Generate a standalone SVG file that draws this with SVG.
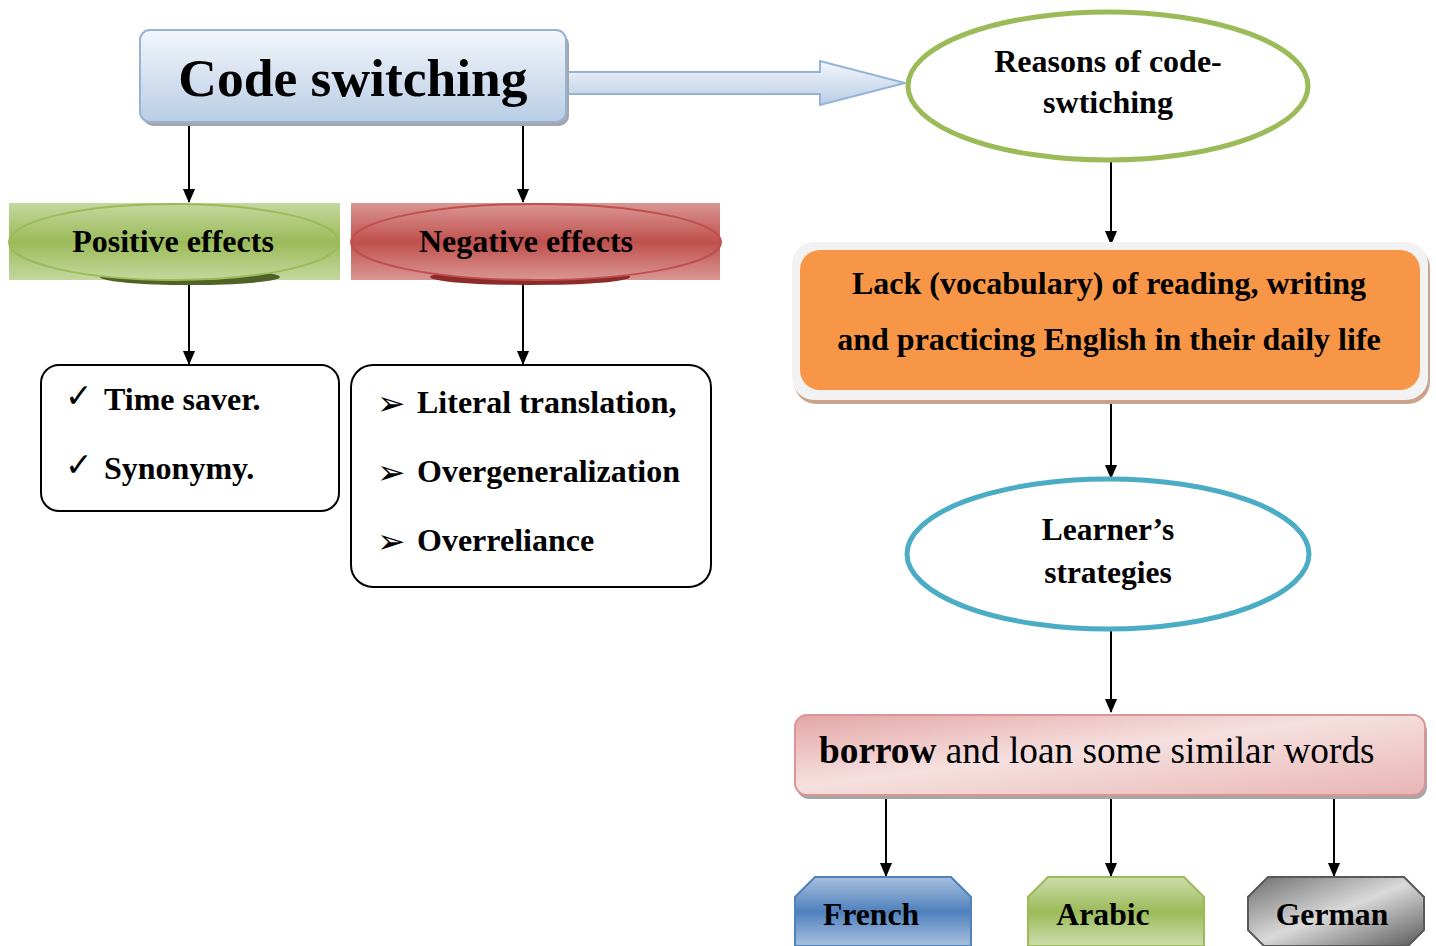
<svg xmlns="http://www.w3.org/2000/svg" width="1436" height="946" viewBox="0 0 1436 946">
<style>
.t{font-family:"Liberation Serif","Times New Roman",serif;font-weight:bold;fill:#000}
.b{font-family:"DejaVu Sans",sans-serif;fill:#000}
.c{stroke:#000;stroke-width:2;fill:none}
</style>
<defs>
<marker id="a" markerWidth="14" markerHeight="16" refX="15" refY="7" orient="auto" markerUnits="userSpaceOnUse" viewBox="0 0 16 14">
<path d="M0,0 L16,7 L0,14 Z" fill="#000"/>
</marker>
<linearGradient id="gBlue" x1="0" y1="0" x2="0" y2="1"><stop offset="0" stop-color="#f3f6fb"/><stop offset="1" stop-color="#b9cde5"/></linearGradient>
<linearGradient id="gGreen" x1="0" y1="0" x2="0" y2="1"><stop offset="0" stop-color="#c4d79e"/><stop offset="0.5" stop-color="#9bbb59"/><stop offset="1" stop-color="#c4d79e"/></linearGradient>
<linearGradient id="gRed" x1="0" y1="0" x2="0" y2="1"><stop offset="0" stop-color="#d99694"/><stop offset="0.5" stop-color="#c0504d"/><stop offset="1" stop-color="#d99694"/></linearGradient>
<linearGradient id="gPink" x1="0" y1="0" x2="1" y2="1"><stop offset="0" stop-color="#e3a6a5"/><stop offset="0.45" stop-color="#f5e0df"/><stop offset="1" stop-color="#e8b5b4"/></linearGradient>
<linearGradient id="gFr" x1="0" y1="0" x2="0" y2="1"><stop offset="0" stop-color="#a7bfde"/><stop offset="0.5" stop-color="#4f81bd"/><stop offset="1" stop-color="#a7bfde"/></linearGradient>
<linearGradient id="gAr" x1="0" y1="0" x2="0" y2="1"><stop offset="0" stop-color="#cddcac"/><stop offset="0.5" stop-color="#9bbb59"/><stop offset="1" stop-color="#cddcac"/></linearGradient>
<linearGradient id="gGe" x1="0" y1="0" x2="1" y2="1"><stop offset="0" stop-color="#6e6e6e"/><stop offset="0.5" stop-color="#d9d9d9"/><stop offset="1" stop-color="#5a5a5a"/></linearGradient>
</defs>

<g id="connectors">
<path d="M566,72 H820 V61 L905,83 L820,105 V94 H566 Z" fill="url(#gBlue)" stroke="#95b3d7" stroke-width="2"/>
<line class="c" x1="189" y1="122" x2="189" y2="202" marker-end="url(#a)"/>
<line class="c" x1="523" y1="122" x2="523" y2="202" marker-end="url(#a)"/>
<line class="c" x1="189" y1="282" x2="189" y2="364" marker-end="url(#a)"/>
<line class="c" x1="523" y1="282" x2="523" y2="364" marker-end="url(#a)"/>
<line class="c" x1="1111" y1="160" x2="1111" y2="244" marker-end="url(#a)"/>
<line class="c" x1="1111" y1="394" x2="1111" y2="478" marker-end="url(#a)"/>
<line class="c" x1="1111" y1="630" x2="1111" y2="712" marker-end="url(#a)"/>
<line class="c" x1="886" y1="795" x2="886" y2="876" marker-end="url(#a)"/>
<line class="c" x1="1111" y1="795" x2="1111" y2="876" marker-end="url(#a)"/>
<line class="c" x1="1334" y1="795" x2="1334" y2="876" marker-end="url(#a)"/>
</g>

<g id="code-switching">
<rect x="143" y="34" width="426" height="92" rx="10" fill="#a6a6a6"/>
<rect x="140" y="30" width="426" height="92" rx="10" fill="url(#gBlue)" stroke="#95b3d7" stroke-width="2"/>
<text class="t" x="353" y="96" font-size="53.5" text-anchor="middle">Code switching</text>
</g>

<g id="reasons">
<ellipse cx="1108" cy="86" rx="200" ry="74" fill="#fff" stroke="#9bbb59" stroke-width="5"/>
<text class="t" x="1108" y="72" font-size="32" text-anchor="middle">Reasons of code-</text>
<text class="t" x="1108" y="113" font-size="32" text-anchor="middle">swtiching</text>
</g>

<g id="positive">
<rect x="9" y="203" width="331" height="77" fill="url(#gGreen)"/>
<ellipse cx="190" cy="277" rx="90" ry="8" fill="#4f6228"/>
<ellipse cx="174" cy="242" rx="165" ry="38" fill="url(#gGreen)" stroke="#9bbb59" stroke-width="2"/>
<text class="t" x="173" y="252" font-size="32" text-anchor="middle">Positive effects</text>
</g>

<g id="negative">
<rect x="351" y="203" width="369" height="77" fill="url(#gRed)"/>
<ellipse cx="530" cy="277" rx="100" ry="8" fill="#8c2b29"/>
<ellipse cx="536" cy="242" rx="185" ry="38" fill="url(#gRed)" stroke="#c0504d" stroke-width="2"/>
<text class="t" x="526" y="252" font-size="32" text-anchor="middle">Negative effects</text>
</g>

<g id="positive-list">
<rect x="41" y="365" width="298" height="146" rx="18" fill="#fff" stroke="#000" stroke-width="2"/>
<text class="b" x="65" y="407" font-size="33">✓</text>
<text class="t" x="104" y="410" font-size="32">Time saver.</text>
<text class="b" x="65" y="476" font-size="33">✓</text>
<text class="t" x="104" y="479" font-size="32">Synonymy.</text>
</g>

<g id="negative-list">
<rect x="351" y="365" width="360" height="222" rx="22" fill="#fff" stroke="#000" stroke-width="2"/>
<text class="b" x="377" y="415" font-size="34">➢</text>
<text class="t" x="417" y="413" font-size="32">Literal translation,</text>
<text class="b" x="377" y="484" font-size="34">➢</text>
<text class="t" x="417" y="482" font-size="32">Overgeneralization</text>
<text class="b" x="377" y="553" font-size="34">➢</text>
<text class="t" x="417" y="551" font-size="32">Overreliance</text>
</g>

<g id="lack">
<rect x="794" y="246" width="636" height="158" rx="22" fill="#c9a38f"/>
<rect x="792" y="242" width="636" height="158" rx="22" fill="#f2f2f2"/>
<rect x="800" y="250" width="620" height="140" rx="20" fill="#f79646"/>
<text class="t" x="1109" y="294" font-size="32" text-anchor="middle">Lack (vocabulary) of reading, writing</text>
<text class="t" x="1109" y="350" font-size="32" text-anchor="middle">and practicing English in their daily life</text>
</g>

<g id="learners">
<ellipse cx="1108" cy="554" rx="201" ry="75" fill="#fff" stroke="#4bacc6" stroke-width="5"/>
<text class="t" x="1108" y="540" font-size="31.5" text-anchor="middle">Learner’s</text>
<text class="t" x="1108" y="583" font-size="31.5" text-anchor="middle">strategies</text>
</g>

<g id="borrow">
<rect x="797" y="719" width="630" height="80" rx="12" fill="#a6a6a6"/>
<rect x="795" y="715" width="630" height="80" rx="12" fill="url(#gPink)" stroke="#d99694" stroke-width="2"/>
<text x="819" y="763" font-size="37.3" font-family="Liberation Serif, Times New Roman, serif" fill="#000"><tspan font-weight="bold">borrow</tspan> and loan some similar words</text>
</g>

<g id="french">
<path d="M815,877 H951 L971,897 V946 H795 V897 Z" fill="url(#gFr)" stroke="#4f81bd" stroke-width="2"/>
<text class="t" x="871" y="925" font-size="31.7" text-anchor="middle">French</text>
</g>

<g id="arabic">
<path d="M1048,877 H1184 L1204,897 V946 H1028 V897 Z" fill="url(#gAr)" stroke="#9bbb59" stroke-width="2"/>
<text class="t" x="1103" y="925" font-size="31.7" text-anchor="middle">Arabic</text>
</g>

<g id="german">
<path d="M1268,877 H1404 L1424,897 V930 L1408,946 H1264 L1248,930 V897 Z" fill="url(#gGe)" stroke="#595959" stroke-width="2"/>
<text class="t" x="1332" y="925" font-size="31.7" text-anchor="middle">German</text>
</g>
</svg>
